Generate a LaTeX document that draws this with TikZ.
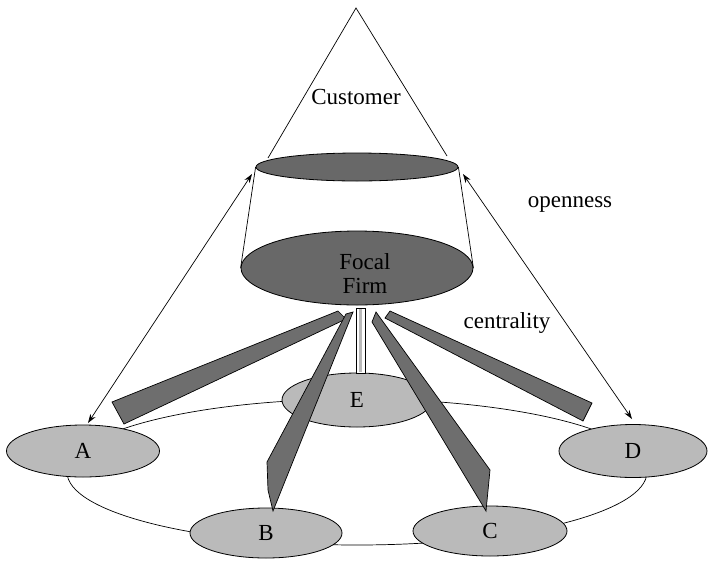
\documentclass[tikz,border=0pt]{standalone}
\usepackage{fontspec}
\setmainfont{Liberation Serif}
\usetikzlibrary{shapes.geometric,arrows.meta}
\definecolor{darkfill}{HTML}{686868}
\definecolor{barfill}{HTML}{6E6E6E}
\definecolor{lightfill}{HTML}{BABABA}
\begin{document}
\begin{tikzpicture}[x=1pt,y=-1pt,
  lbl/.style={font=\fontsize{23}{25}\selectfont, inner sep=0pt},
  node oval/.style={ellipse, draw=black, line width=0.8pt, fill=lightfill, inner sep=0pt, font=\fontsize{23}{25}\selectfont},
  dark oval/.style={ellipse, draw=black, line width=0.8pt, fill=darkfill, inner sep=0pt},
  thinline/.style={draw=black, line width=0.7pt},
  biarrow/.style={thinline, {Stealth[length=9pt,width=6pt]}-{Stealth[length=9pt,width=6pt]}},
  bar/.style={draw=black, line width=0.7pt, fill=barfill}
]
\useasboundingbox (0,0) rectangle (710,563);
\fill[white] (0,0) rectangle (710,563);

% ring connecting the partners
\node[ellipse, thinline, minimum width=580pt, minimum height=146pt, inner sep=0pt] (ring) at (357,472) {};

% customer triangle
\coordinate (apex) at (356,8);
\coordinate (triL) at (268,158);
\coordinate (triR) at (447,156);
\draw[thinline] (triL) -- (apex) -- (triR);

% frustum ellipses
\node[dark oval, minimum width=202pt, minimum height=28pt] (top) at (357,167) {};
\node[dark oval, minimum width=232pt, minimum height=74pt] (focal) at (357,268) {};
\node[lbl, align=center] (focaltxt) at (365,274) {Focal\\[-1pt]Firm};
\draw[thinline] (top.west) -- (focal.west);
\draw[thinline] (top.east) -- (focal.east);

% partner ellipses
\node[node oval, minimum width=150pt, minimum height=54pt] (E) at (357,400) {E};
\node[node oval, minimum width=153pt, minimum height=52pt] (A) at (83,451) {A};
\node[node oval, minimum width=152pt, minimum height=50pt] (B) at (266,533) {B};
\node[node oval, minimum width=154pt, minimum height=50pt] (C) at (490,531) {C};
\node[node oval, minimum width=148pt, minimum height=53pt] (D) at (633,451) {D};

% openness arrows
\coordinate (arrL) at (252,174);
\coordinate (arrR) at (463,174);
\coordinate (Atip) at (88,423);
\coordinate (Dtip) at (632,419);
\draw[biarrow] (arrL) -- (Atip);
\draw[biarrow] (arrR) -- (Dtip);

% centrality bars
\draw[bar] (338,311) -- (346,319) -- (124,424) -- (112,402) -- cycle;
\draw[bar] (346,314) -- (353,312) -- (273,511) -- (268,490) -- (267,462) -- cycle;
\draw[bar] (372,322) -- (376,312) -- (490,470) -- (486,511) -- cycle;
\draw[bar] (385,318) -- (390,311) -- (592,403) -- (583,421) -- cycle;
\draw[draw=black, line width=0.7pt, fill=white] (356,308) rectangle (365,373);
\fill[lightfill] (359.2,309) rectangle (361.8,372);

% labels
\node[lbl] (cust) at (356,97) {Customer};
\node[lbl] (open) at (570,205) {openness};
\node[lbl] (cent) at (507,323) {centrality};
\end{tikzpicture}
\end{document}
